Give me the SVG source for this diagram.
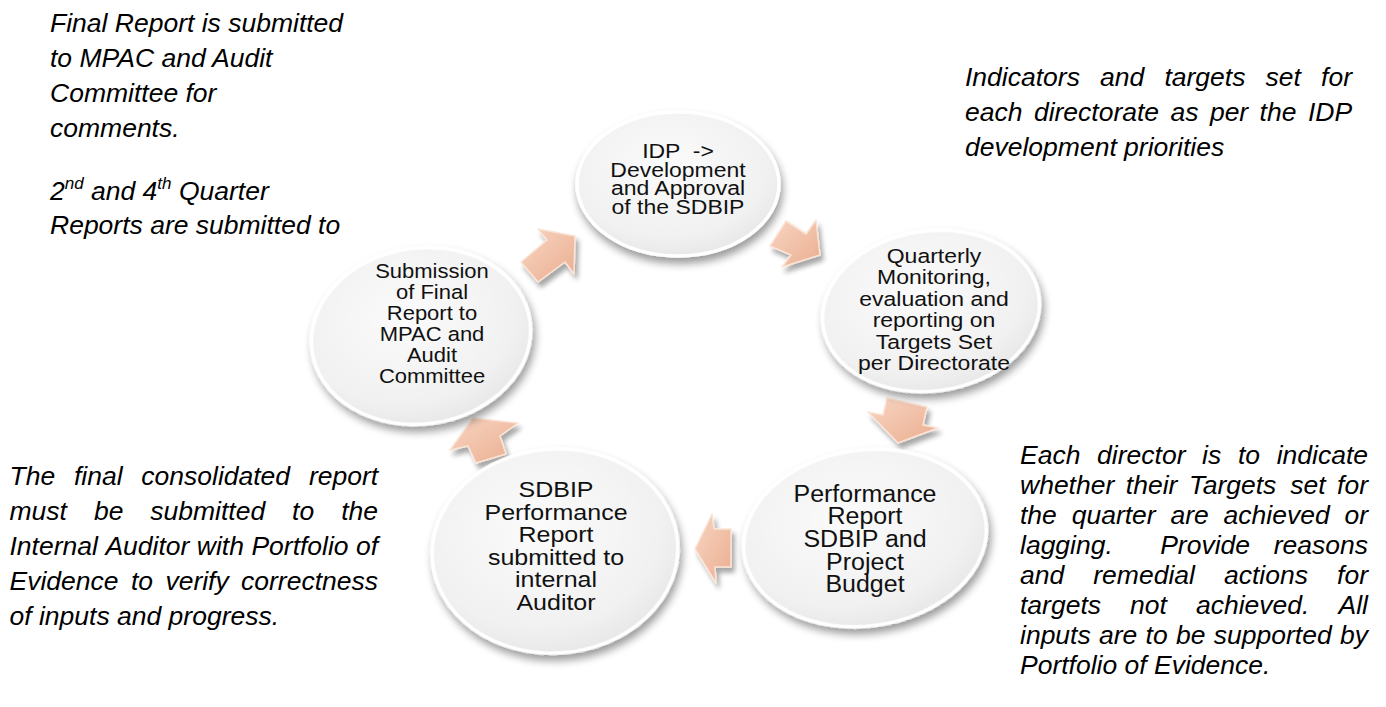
<svg xmlns="http://www.w3.org/2000/svg" width="1386" height="707" viewBox="0 0 1386 707">
<defs>
<style>
.note{font-family:"Liberation Sans",Arial,sans-serif;font-style:italic;font-size:26.5px;fill:#000}
.sup{font-size:17px}
.nt{font-family:"Liberation Sans",Arial,sans-serif;fill:#111;text-anchor:middle}
.node{fill:url(#gNode);stroke:#ffffff;stroke-width:3.5;filter:url(#nShadow)}
.arrow{fill:url(#gArrow);stroke:#fbe4d6;stroke-width:1.5;stroke-linejoin:round;filter:url(#aShadow)}
</style>
<radialGradient id="gNode" cx="0.45" cy="0.38" r="0.7">
<stop offset="0" stop-color="#fbfbfb"/>
<stop offset="0.7" stop-color="#f1f1f1"/>
<stop offset="1" stop-color="#e3e3e3"/>
</radialGradient>
<linearGradient id="gArrow" x1="0" y1="0" x2="1" y2="1">
<stop offset="0" stop-color="#f8d5c2"/>
<stop offset="1" stop-color="#eaae90"/>
</linearGradient>
<filter id="nShadow" x="-20%" y="-20%" width="140%" height="150%">
<feGaussianBlur in="SourceAlpha" stdDeviation="4"/>
<feOffset dx="2" dy="6"/>
<feComponentTransfer><feFuncA type="linear" slope="0.4"/></feComponentTransfer>
<feMerge><feMergeNode/><feMergeNode in="SourceGraphic"/></feMerge>
</filter>
<filter id="aShadow" x="-40%" y="-40%" width="180%" height="180%">
<feGaussianBlur in="SourceAlpha" stdDeviation="2.5"/>
<feOffset dx="3" dy="5"/>
<feComponentTransfer><feFuncA type="linear" slope="0.35"/></feComponentTransfer>
<feMerge><feMergeNode/><feMergeNode in="SourceGraphic"/></feMerge>
</filter>
</defs>

<g id="annotations">
<text class="note" x="50" y="32">Final Report is submitted</text>
<text class="note" x="50" y="67">to MPAC and Audit</text>
<text class="note" x="50" y="102">Committee for</text>
<text class="note" x="50" y="137">comments.</text>
<text class="note" x="50" y="200">2<tspan class="sup" dy="-11">nd</tspan><tspan dy="11"> and 4</tspan><tspan class="sup" dy="-11">th</tspan><tspan dy="11"> Quarter</tspan></text>
<text class="note" x="50" y="234">Reports are submitted to</text>

<text class="note" y="86"><tspan x="965">Indicators</tspan><tspan x="1100">and</tspan><tspan x="1164.4">targets</tspan><tspan x="1265.6">set</tspan><tspan x="1321.1">for</tspan></text>
<text class="note" y="121"><tspan x="965">each</tspan><tspan x="1033.9">directorate</tspan><tspan x="1170.5">as</tspan><tspan x="1209.9">per</tspan><tspan x="1259.6">the</tspan><tspan x="1307.9">IDP</tspan></text>
<text class="note" x="965" y="156">development priorities</text>

<text class="note" y="485"><tspan x="9.5">The</tspan><tspan x="74">final</tspan><tspan x="141.3">consolidated</tspan><tspan x="308.9">report</tspan></text>
<text class="note" y="520"><tspan x="9.5">must</tspan><tspan x="93.9">be</tspan><tspan x="150.3">submitted</tspan><tspan x="292.1">to</tspan><tspan x="341.2">the</tspan></text>
<text class="note" y="555"><tspan x="9.5">Internal</tspan><tspan x="105.4">Auditor</tspan><tspan x="196.8">with</tspan><tspan x="251.4">Portfolio</tspan><tspan x="356">of</tspan></text>
<text class="note" y="590"><tspan x="9.5">Evidence</tspan><tspan x="130.9">to</tspan><tspan x="165.4">verify</tspan><tspan x="241">correctness</tspan></text>
<text class="note" x="9.5" y="625">of inputs and progress.</text>

<text class="note" y="464"><tspan x="1020">Each</tspan><tspan x="1097.1">director</tspan><tspan x="1202.1">is</tspan><tspan x="1237.9">to</tspan><tspan x="1276.7">indicate</tspan></text>
<text class="note" y="494"><tspan x="1020">whether</tspan><tspan x="1125.8">their</tspan><tspan x="1188.9">Targets</tspan><tspan x="1290.2">set</tspan><tspan x="1337.1">for</tspan></text>
<text class="note" y="524"><tspan x="1020">the</tspan><tspan x="1071.7">quarter</tspan><tspan x="1170.5">are</tspan><tspan x="1223.6">achieved</tspan><tspan x="1344.5">or</tspan></text>
<text class="note" y="554"><tspan x="1020">lagging.</tspan><tspan x="1160.2">Provide</tspan><tspan x="1273.7">reasons</tspan></text>
<text class="note" y="584"><tspan x="1020">and</tspan><tspan x="1093.3">remedial</tspan><tspan x="1224">actions</tspan><tspan x="1337.1">for</tspan></text>
<text class="note" y="614"><tspan x="1020">targets</tspan><tspan x="1130.1">not</tspan><tspan x="1196">achieved.</tspan><tspan x="1338.5">All</tspan></text>
<text class="note" y="644"><tspan x="1020">inputs</tspan><tspan x="1099">are</tspan><tspan x="1145.6">to</tspan><tspan x="1176">be</tspan><tspan x="1213.8">supported</tspan><tspan x="1339.9">by</tspan></text>
<text class="note" x="1020" y="674">Portfolio of Evidence.</text>
</g>

<g id="connectors">
<polygon class="arrow" points="521,262 547,240 538,229 575,236 574,274 565,262 538,282"/>
<polygon class="arrow" points="786,221 806,234 816,220 820,255 782,267 791,255 770,246"/>
<polygon class="arrow" points="887,398 927,407 923,425 938,428 898,443 868,412 883,415"/>
<polygon class="arrow" points="731,529 714,529 712,514 695,549 716,583 715,567 731,567"/>
<polygon class="arrow" points="476,463 468,446 450,450 473,418 518,423 500,436 506,454"/>
</g>

<g id="node-idp">
<ellipse class="node" cx="678" cy="184" rx="101" ry="72"/>
<text class="nt" font-size="23" transform="translate(678,186) scale(1,0.86)"><tspan x="0" y="-33">IDP &#160;-&gt;</tspan><tspan x="0" y="-10.6">Development</tspan><tspan x="0" y="10.8">and Approval</tspan><tspan x="0" y="32">of the SDBIP</tspan></text>
</g>

<g id="node-quarterly">
<ellipse class="node" cx="931" cy="311" rx="109" ry="80" transform="rotate(-8 931 311)"/>
<text class="nt" font-size="23" transform="translate(934,312) scale(1,0.9)"><tspan x="0" y="-54.4">Quarterly</tspan><tspan x="0" y="-30.6">Monitoring,</tspan><tspan x="0" y="-6.7">evaluation and</tspan><tspan x="0" y="17.2">reporting on</tspan><tspan x="0" y="41.1">Targets Set</tspan><tspan x="0" y="65">per Directorate</tspan></text>
</g>

<g id="node-performance">
<ellipse class="node" cx="865" cy="538" rx="122" ry="88" transform="rotate(-8 865 538)"/>
<text class="nt" font-size="25" transform="translate(865,539) scale(1,0.93)"><tspan x="0" y="-39.8">Performance</tspan><tspan x="0" y="-15.6">Report</tspan><tspan x="0" y="8.6">SDBIP and</tspan><tspan x="0" y="32.8">Project</tspan><tspan x="0" y="57">Budget</tspan></text>
</g>

<g id="node-sdbip">
<ellipse class="node" cx="555" cy="551" rx="123" ry="102" transform="rotate(-4 555 551)"/>
<text class="nt" font-size="25" transform="translate(556,553) scale(1,0.91)"><tspan x="0" y="-61.5">SDBIP</tspan><tspan x="0" y="-36.7">Performance</tspan><tspan x="0" y="-11.9">Report</tspan><tspan x="0" y="13">submitted to</tspan><tspan x="0" y="37.8">internal</tspan><tspan x="0" y="62.6">Auditor</tspan></text>
</g>

<g id="node-submission">
<ellipse class="node" cx="421" cy="336" rx="110" ry="88" transform="rotate(-8 421 336)"/>
<text class="nt" font-size="22" transform="translate(432,335) scale(1,0.95)"><tspan x="0" y="-60">Submission</tspan><tspan x="0" y="-37.9">of Final</tspan><tspan x="0" y="-15.8">Report to</tspan><tspan x="0" y="6.3">MPAC and</tspan><tspan x="0" y="28.4">Audit</tspan><tspan x="0" y="50.5">Committee</tspan></text>
</g>
</svg>
